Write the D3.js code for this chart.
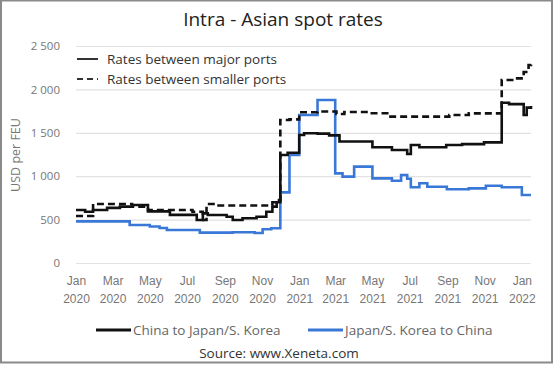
<!DOCTYPE html>
<html><head><meta charset="utf-8">
<script src="https://cdn.jsdelivr.net/npm/d3@7"></script>
<style>body{margin:0;background:#fff}svg{display:block;font-family:"Open Sans",sans-serif}</style>
</head><body><svg id="c" width="556" height="365"></svg>
<script>
// Data (step series, value changes at each date)
const majorCnJp = [
 ["2020-01-01",610],["2020-01-16",590],["2020-01-29",610],["2020-02-21",635],["2020-03-13",650],
 ["2020-04-02",668],["2020-04-28",595],["2020-06-03",555],["2020-07-17",495],["2020-07-27",572],
 ["2020-08-04",553],["2020-09-04",533],["2020-09-14",495],["2020-09-30",515],["2020-10-23",533],
 ["2020-11-08",591],["2020-11-18",649],["2020-11-25",700],["2020-12-01",1245],["2020-12-13",1270],
 ["2021-01-01",1475],["2021-01-09",1494],["2021-01-31",1490],["2021-02-19",1470],["2021-03-08",1400],
 ["2021-05-01",1333],["2021-06-02",1302],["2021-06-27",1256],["2021-07-03",1359],["2021-07-17",1333],
 ["2021-08-30",1359],["2021-09-25",1370],["2021-10-31",1390],["2021-11-29",1847],["2021-12-11",1830],
 ["2022-01-04",1705],["2022-01-09",1790],["2022-01-16",1810]
];
const smallerCnJp = [
 ["2020-01-01",541],["2020-01-29",680],["2020-04-02",649],["2020-04-28",610],["2020-07-10",591],
 ["2020-07-27",495],["2020-08-02",680],["2020-08-19",662],["2020-11-18",700],["2020-11-25",726],
 ["2020-12-01",1647],["2020-12-16",1655],["2021-01-01",1736],["2021-01-31",1745],["2021-03-03",1717],
 ["2021-03-16",1740],["2021-04-26",1725],["2021-05-28",1686],["2021-09-04",1705],["2021-10-06",1724],
 ["2021-11-29",2108],["2021-12-19",2127],["2022-01-04",2200],["2022-01-12",2281],["2022-01-16",2295]
];
const majorJpCn = [
 ["2020-01-01",480],["2020-03-29",438],["2020-05-01",420],["2020-05-17",403],["2020-05-29",380],
 ["2020-07-22",350],["2020-09-14",355],["2020-10-20",345],["2020-11-02",388],["2020-11-16",400],
 ["2020-12-01",814],["2020-12-16",1244],["2021-01-01",1705],["2021-01-31",1878],["2021-03-01",1033],
 ["2021-03-13",995],["2021-04-01",1110],["2021-05-01",975],["2021-06-02",948],["2021-06-17",1014],
 ["2021-06-27",970],["2021-07-03",872],["2021-07-17",918],["2021-07-30",879],["2021-08-31",849],
 ["2021-10-06",860],["2021-11-03",890],["2021-11-29",872],["2022-01-01",783],["2022-01-16",783]
];
const yTicks = [0,500,1000,1500,2000,2500];
const xTickDates = ["2020-01-01","2020-03-01","2020-05-01","2020-07-01","2020-09-01","2020-11-01",
 "2021-01-01","2021-03-01","2021-05-01","2021-07-01","2021-09-01","2021-11-01","2022-01-01"];
const monthNames = ["Jan","Feb","Mar","Apr","May","Jun","Jul","Aug","Sep","Oct","Nov","Dec"];

const svg = d3.select("#c");
const parse = d3.utcParse("%Y-%m-%d");
const x = d3.scaleUtc().domain([parse("2020-01-01"), parse("2022-01-16")]).range([76, 531]);
const y = d3.scaleLinear().domain([0,2500]).range([263,46]);

// frame
svg.append("rect").attr("x",1).attr("y",0.5).attr("width",551).attr("height",362)
 .attr("fill","none").attr("stroke","#8a8a8a").attr("stroke-width",2);

// title
svg.append("text").attr("x",283).attr("y",26).attr("text-anchor","middle")
 .attr("font-size",19).attr("fill","#222").text("Intra - Asian spot rates");

// grid + y labels
const yAxis = d3.axisLeft(y).tickValues(yTicks).tickSize(-(531-76)).tickPadding(16)
 .tickFormat(d => d3.format(",")(d).replace(",", " "));
const gy = svg.append("g").attr("transform","translate(76,0)").call(yAxis);
gy.select(".domain").remove();
gy.selectAll("line").attr("stroke","#e2e2e2").attr("stroke-width",1.2);
gy.selectAll("text").attr("fill","#777").attr("font-size",11.5).attr("font-family","Open Sans");

svg.append("text").attr("transform","translate(20,155) rotate(-90)").attr("text-anchor","middle")
 .attr("font-size",12.5).attr("fill","#777").text("USD per FEU");

// x labels
const xAxis = d3.axisBottom(x).tickValues(xTickDates.map(parse)).tickSize(0).tickFormat("");
const gx = svg.append("g").attr("transform","translate(0,263)").call(xAxis);
gx.select(".domain").remove();
gx.selectAll(".tick").each(function(d){
  const t = d3.select(this).append("text").attr("fill","#777").attr("font-size",12)
   .attr("text-anchor","middle");
  t.append("tspan").attr("x",0).attr("y",22).text(monthNames[d.getUTCMonth()]);
  t.append("tspan").attr("x",0).attr("y",40).text(d.getUTCFullYear());
});

// lines
const line = d3.line().curve(d3.curveStepAfter).x(d => x(parse(d[0]))).y(d => y(d[1]));
svg.append("path").datum(majorJpCn).attr("d",line).attr("fill","none")
 .attr("stroke","#3a78d8").attr("stroke-width",2.6);
svg.append("path").datum(smallerCnJp).attr("d",line).attr("fill","none")
 .attr("stroke","#111").attr("stroke-width",2.6).attr("stroke-dasharray","7,4");
svg.append("path").datum(majorCnJp).attr("d",line).attr("fill","none")
 .attr("stroke","#111").attr("stroke-width",2.6);

// inner legend
const lg = [{t:"Rates between major ports",dash:null,y:59},{t:"Rates between smaller ports",dash:"6,4",y:79}];
lg.forEach(l => {
  svg.append("line").attr("x1",77).attr("x2",98).attr("y1",l.y).attr("y2",l.y)
   .attr("stroke","#333").attr("stroke-width",2).attr("stroke-dasharray",l.dash);
  svg.append("text").attr("x",107).attr("y",l.y).attr("dy","0.35em").attr("font-size",13.5)
   .attr("fill","#333").text(l.t);
});

// bottom legend
const bl = [{t:"China to Japan/S. Korea",c:"#111",x:96},{t:"Japan/S. Korea to China",c:"#3a78d8",x:308}];
bl.forEach(l => {
  svg.append("line").attr("x1",l.x).attr("x2",l.x+35).attr("y1",330).attr("y2",330)
   .attr("stroke",l.c).attr("stroke-width",3);
  svg.append("text").attr("x",l.x+37).attr("y",330).attr("dy","0.35em").attr("font-size",13.5)
   .attr("fill","#666").text(l.t);
});

svg.append("text").attr("x",279).attr("y",353).attr("dy","0.35em").attr("text-anchor","middle")
 .attr("font-size",13.5).attr("fill","#333").text("Source: www.Xeneta.com");
</script></body></html>
